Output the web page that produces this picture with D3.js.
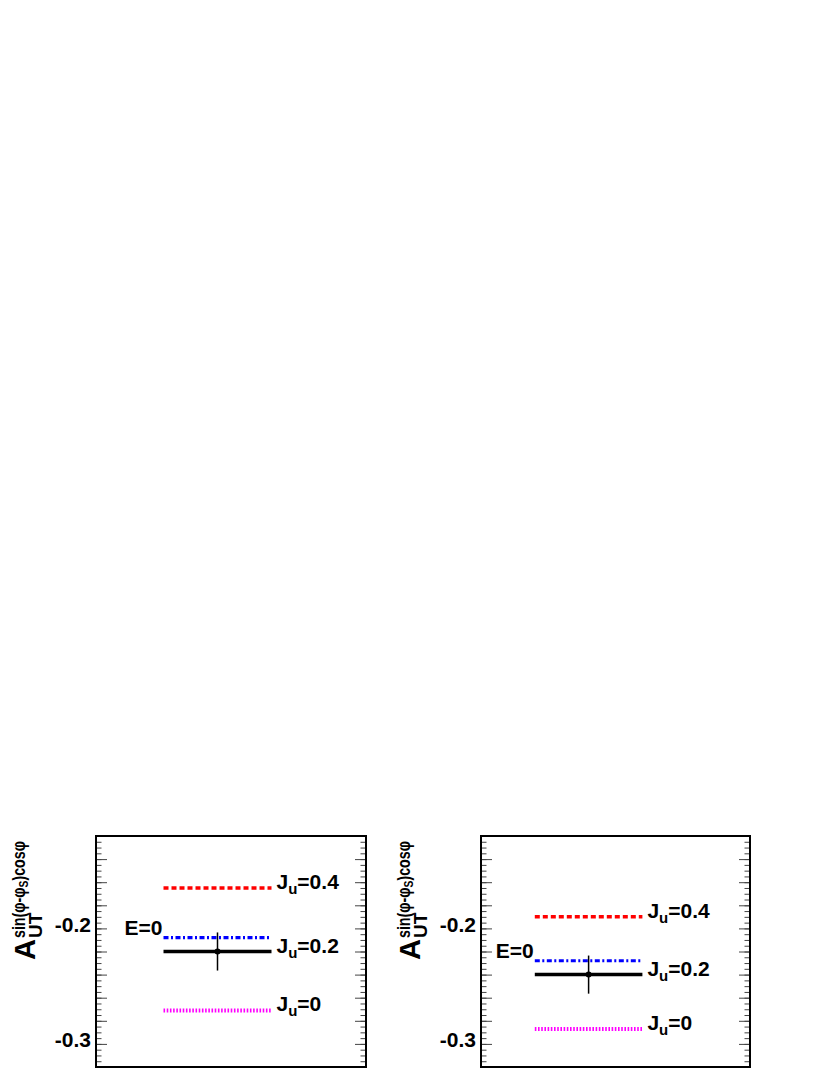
<!DOCTYPE html>
<html>
<head>
<meta charset="utf-8">
<script src="https://cdn.jsdelivr.net/npm/d3@7"></script>
<style>
  body { margin: 0; background: #fff; }
  svg { display: block; }
  text { font-family: "Liberation Sans", Arial, Helvetica, sans-serif; font-weight: bold; }
</style>
</head>
<body>
<script>
// ---- data ----
const panelNames = ["left", "right"];
const seriesNames = ["J_u=0.4", "J_u=0.2, E=0", "data", "J_u=0"];
const seriesLabels = ["0.4", null, "0.2", "0"];
const leftValues = [-0.165, -0.208, -0.220, -0.271];
const rightValues = [-0.190, -0.228, -0.240, -0.287];
const pointErrors = [0.0165, 0.0165];
const binLow = [0.25, 0.20];
const binHigh = [0.65, 0.60];
const yTickLabels = [-0.2, -0.3];
const yDomain = [-0.32, -0.12];

// ---- layout ----
const W = 830, H = 1075;
const frames = [
  { left: 96, right: 366, top: 836, bottom: 1067, titleX: 35 },
  { left: 481, right: 750, top: 836, bottom: 1067, titleX: 420 }
];
const panelValues = [leftValues, rightValues];

const svg = d3.select("body").append("svg").attr("width", W).attr("height", H);

const styles = [
  { color: "#ff0000", width: 3.5, dash: "5,3" },
  { color: "#0000ff", width: 3.2, dash: "5,2.5,2,2.5" },
  { color: "#000000", width: 3.5, dash: null },
  { color: "#ff00ff", width: 4, dash: "1.6,1.6" }
];

panelNames.forEach((name, p) => {
  const f = frames[p];
  const vals = panelValues[p];
  const g = svg.append("g").attr("class", "panel-" + name);
  const x = d3.scaleLinear().domain([0, 1]).range([f.left, f.right]);
  const y = d3.scaleLinear().domain(yDomain).range([f.bottom, f.top]);

  const minor = d3.range(-0.32, -0.1199, 0.005).map(v => +v.toFixed(4));
  const major = d3.range(-0.32, -0.1199, 0.02).map(v => +v.toFixed(4));

  const mkAxis = (axisFn, vals2, size, xpos) => {
    const a = g.append("g").attr("transform", `translate(${xpos},0)`)
      .call(axisFn(y).tickValues(vals2).tickSize(size).tickFormat(""));
    a.select(".domain").remove();
    a.selectAll("line").attr("stroke", "#444").attr("stroke-width", 1);
    return a;
  };
  mkAxis(d3.axisLeft, minor, -5.5, f.left);
  mkAxis(d3.axisLeft, major, -11, f.left);
  mkAxis(d3.axisRight, minor, -5.5, f.right);
  mkAxis(d3.axisRight, major, -11, f.right);

  const lab = g.append("g").attr("transform", `translate(${f.left},0)`)
    .call(d3.axisLeft(y).tickValues(yTickLabels).tickSize(0).tickPadding(5)
      .tickFormat(d => d.toFixed(1)));
  lab.select(".domain").remove();
  lab.selectAll("text").attr("font-size", 21).attr("fill", "#000")
    .attr("dy", "0.13em")
    .style("font-family", '"Liberation Sans", Arial, sans-serif').style("font-weight", "bold");

  g.append("rect").attr("x", f.left).attr("y", f.top)
    .attr("width", f.right - f.left).attr("height", f.bottom - f.top)
    .attr("fill", "none").attr("stroke", "#000").attr("stroke-width", 2);

  const order = [0, 1, 3, 2];
  order.forEach(i => {
    const s = styles[i];
    const ln = g.append("line")
      .attr("x1", x(binLow[p])).attr("x2", x(binHigh[p]))
      .attr("y1", y(vals[i])).attr("y2", y(vals[i]))
      .attr("stroke", s.color).attr("stroke-width", s.width);
    if (s.dash) ln.attr("stroke-dasharray", s.dash);
  });

  const xm = x((binLow[p] + binHigh[p]) / 2);
  g.append("line").attr("x1", xm).attr("x2", xm)
    .attr("y1", y(vals[2] + pointErrors[p])).attr("y2", y(vals[2] - pointErrors[p]))
    .attr("stroke", "#000").attr("stroke-width", 1.5);
  g.append("circle").attr("cx", xm).attr("cy", y(vals[2])).attr("r", 3).attr("fill", "#000");

  [0, 2, 3].forEach(i => {
    const t = g.append("text").attr("x", x(binHigh[p]) + 5).attr("y", y(vals[i]) + 1)
      .attr("font-size", 21).attr("fill", "#000");
    t.append("tspan").text("J");
    t.append("tspan").attr("font-size", 15).attr("dy", 5).text("u");
    t.append("tspan").attr("dy", -5).text("=" + seriesLabels[i]);
  });

  g.append("text").attr("x", x(binLow[p]) - 1).attr("y", y(vals[1]) - 2.5)
    .attr("text-anchor", "end").attr("font-size", 21).attr("fill", "#000").text("E=0");

  // y title
  const tg = g.append("g").attr("transform", `translate(${f.titleX},960) rotate(-90)`);
  const tA = tg.append("text").attr("x", 0).attr("y", 0).attr("font-size", 29).text("A");
  const aw = tA.node().getComputedTextLength() + 1;
  tg.append("text").attr("x", aw).attr("y", 7).attr("font-size", 19).text("UT");
  const sup = tg.append("text").attr("x", aw).attr("y", -10).attr("font-size", 18)
    .attr("textLength", 97).attr("lengthAdjust", "spacingAndGlyphs");
  sup.append("tspan").text("sin(φ-φ");
  sup.append("tspan").attr("font-size", 13).attr("dy", 3).text("S");
  sup.append("tspan").attr("dy", -3).text(")cosφ");
});
</script>
</body>
</html>
